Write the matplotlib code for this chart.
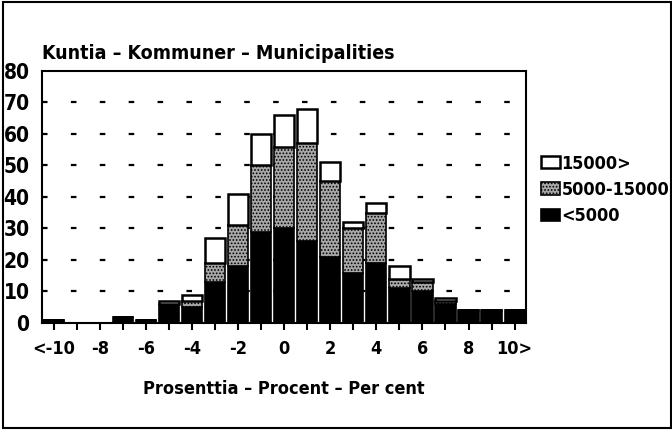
import matplotlib
matplotlib.use("Agg")
import matplotlib.pyplot as plt
from matplotlib.patches import Rectangle
import numpy as np

positions = list(range(-10, 11))
tick_labels = ["<-10", "-8", "-6", "-4", "-2", "0", "2", "4", "6", "8", "10>"]
small = [1, 0, 0, 2, 1, 6, 5, 13, 18, 29, 30, 26, 21, 16, 19, 11, 10, 6, 4, 4, 4]      # <5000
medium = [0, 0, 0, 0, 0, 0, 2, 6, 13, 21, 26, 31, 24, 14, 16, 3, 3, 1, 0, 0, 0]       # 5000-15000
large = [0, 0, 0, 0, 0, 1, 2, 8, 10, 10, 10, 11, 6, 2, 3, 4, 1, 1, 0, 0, 0]           # 15000>
series_names = ["15000>", "5000-15000", "<5000"]

plt.rcParams['font.family'] = ['Liberation Sans Narrow', 'DejaVu Sans']
plt.rcParams['font.weight'] = 'bold'
plt.rcParams['font.stretch'] = 'condensed'
plt.rcParams['hatch.color'] = '#202020'
plt.rcParams['hatch.linewidth'] = 0.8

fig = plt.figure(figsize=(6.72, 4.30), dpi=100)
fig.patches.append(Rectangle((0.005, 0.004), 0.993, 0.992, transform=fig.transFigure,
                             fill=False, edgecolor='black', linewidth=1.5))
ax = fig.add_axes([0.0625, 0.249, 0.7205, 0.586])

x = np.array(positions)
s = np.array(small); m = np.array(medium); l = np.array(large)
w = 0.88
b1 = ax.bar(x, s, width=w, color='black', edgecolor='black', linewidth=1.2, zorder=3)
b2 = ax.bar(x, m, width=w, bottom=s, color='#a8a8a8', hatch='.....', edgecolor='black',
            linewidth=1.2, zorder=3)
b3 = ax.bar(x, l, width=w, bottom=s + m, color='white', edgecolor='black', linewidth=1.8, zorder=3)

ax.set_xlim(-10.5, 10.5)
ax.set_ylim(0, 80)
ax.set_yticks(range(0, 81, 10))
ax.set_yticklabels([str(v) for v in range(0, 81, 10)], fontsize=15, fontweight='bold')
ax.set_xticks(positions)
ax.set_xticklabels([tick_labels[i // 2] if i % 2 == 0 else "" for i in range(21)],
                   fontsize=13, fontweight='bold')
ax.tick_params(axis='x', direction='out', length=5, width=1.5, pad=7)
ax.tick_params(axis='y', length=0, pad=9)
for sp in ax.spines.values():
    sp.set_linewidth(1.5)
for yv in range(10, 80, 10):
    ax.axhline(yv, color='black', linewidth=1.6, linestyle=(0, (2.5, 10.5)), zorder=1)

ax.set_xlabel("Prosenttia – Procent – Per cent", fontsize=13, fontweight='bold', labelpad=16)
ax.text(0.0, 1.03, "Kuntia – Kommuner – Municipalities", transform=ax.transAxes,
        fontsize=14, fontweight='bold', ha='left', va='bottom')

handles = [b3[0], b2[0], b1[0]]
leg = fig.legend(handles, series_names, loc='upper left', bbox_to_anchor=(0.794, 0.657),
                 frameon=False, fontsize=13, handlelength=1.05, handleheight=0.65,
                 handletextpad=0.1, labelspacing=0.45, borderaxespad=0)
for t in leg.get_texts():
    t.set_fontweight('bold')

fig.savefig("out.png", dpi=100)
